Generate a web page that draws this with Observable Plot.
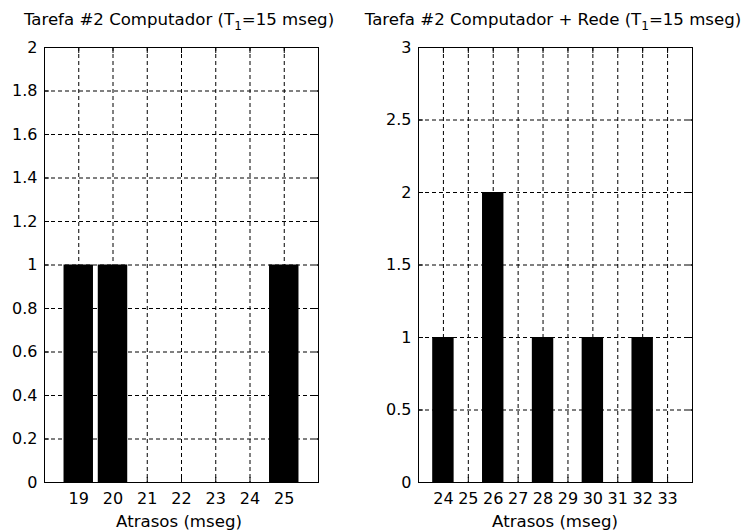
<!DOCTYPE html>
<html>
<head>
<meta charset="utf-8">
<script src="https://cdn.jsdelivr.net/npm/d3@7"></script>
<script src="https://cdn.jsdelivr.net/npm/@observablehq/plot@0.6"></script>
<style>
  body { margin: 0; background: #fff; }
  #wrap { position: relative; width: 745px; height: 532px; overflow: hidden; background: #fff; }
  .panel { position: absolute; top: 0; }
  .panel text { font-family: "DejaVu Sans", sans-serif; font-size: 16px; }
  .txt { position: absolute; font-family: "DejaVu Sans", sans-serif; font-size: 16.6px; color: #000;
         white-space: nowrap; transform: translateX(-50%); line-height: 1; }
  .txt sub { font-size: 12px; vertical-align: -5px; line-height: 0; }
</style>
</head>
<body>
<div id="wrap"></div>
<script>
// ---- data ----
const leftDelays  = [19, 20, 21, 22, 23, 24, 25];
const leftCounts  = [1, 1, 0, 0, 0, 0, 1];
const rightDelays = [24, 25, 26, 27, 28, 29, 30, 31, 32];
const rightCounts = [1, 0, 2, 0, 1, 0, 1, 0, 1];

const leftXTicks  = [19, 20, 21, 22, 23, 24, 25];
const leftYTicks  = [0, 0.2, 0.4, 0.6, 0.8, 1, 1.2, 1.4, 1.6, 1.8, 2];
const rightXTicks = [24, 25, 26, 27, 28, 29, 30, 31, 32, 33];
const rightYTicks = [0, 0.5, 1, 1.5, 2, 2.5, 3];

const leftXDomain  = [18, 26];
const leftYDomain  = [0, 2];
const rightXDomain = [23, 34];
const rightYDomain = [0, 3];

const leftTitleHTML  = "Tarefa #2 Computador (T<sub>1</sub>=15 mseg)";
const rightTitleHTML = "Tarefa #2 Computador + Rede (T<sub>1</sub>=15 mseg)";
const xLabel = "Atrasos (mseg)";

// ---- drawing ----
const wrap = document.getElementById("wrap");
const barHalf = 0.43;

function panel({ delays, counts, xDomain, yDomain, xTicks, yTicks, width, ml, mr }) {
  const data = delays.map((x, i) => ({ x, n: counts[i] }));
  const empty = () => "";
  return Plot.plot({
    width, height: 532,
    marginLeft: ml, marginRight: mr, marginTop: 47, marginBottom: 50,
    style: { background: "white", color: "black", overflow: "visible",
             fontFamily: "'DejaVu Sans', sans-serif", fontSize: "16px" },
    x: { type: "linear", domain: xDomain },
    y: { type: "linear", domain: yDomain },
    marks: [
      Plot.gridX(xTicks, { stroke: "black", strokeOpacity: 1, strokeDasharray: "4,3" }),
      Plot.gridY(yTicks, { stroke: "black", strokeOpacity: 1, strokeDasharray: "4,3" }),
      Plot.rectY(data, { x1: d => d.x - barHalf, x2: d => d.x + barHalf, y: "n", fill: "black" }),
      Plot.frame({ stroke: "black" }),
      Plot.axisX(xTicks, { anchor: "bottom", tickSize: 0, tickPadding: 10, label: null, fontSize: 16 }),
      Plot.axisX(xTicks, { anchor: "bottom", tickSize: -5, tickFormat: empty, label: null }),
      Plot.axisX(xTicks, { anchor: "top", tickSize: -5, tickFormat: empty, label: null }),
      Plot.axisY(yTicks, { anchor: "left", tickSize: 0, tickPadding: 7, tickFormat: d => String(d), label: null, fontSize: 16 }),
      Plot.axisY(yTicks, { anchor: "left", tickSize: -5, tickFormat: empty, label: null }),
      Plot.axisY(yTicks, { anchor: "right", tickSize: -5, tickFormat: empty, label: null })
    ]
  });
}

const left = panel({ delays: leftDelays, counts: leftCounts, xDomain: leftXDomain, yDomain: leftYDomain,
                     xTicks: leftXTicks, yTicks: leftYTicks, width: 372, ml: 44, mr: 54 });
left.classList.add("panel");
left.style.left = "0px";
wrap.appendChild(left);

const right = panel({ delays: rightDelays, counts: rightCounts, xDomain: rightXDomain, yDomain: rightYDomain,
                      xTicks: rightXTicks, yTicks: rightYTicks, width: 373, ml: 46, mr: 53 });
right.classList.add("panel");
right.style.left = "372px";
wrap.appendChild(right);

function addText(html, cx, top) {
  const d = document.createElement("div");
  d.className = "txt";
  d.innerHTML = html;
  d.style.left = cx + "px";
  d.style.top = top + "px";
  wrap.appendChild(d);
}
addText(leftTitleHTML, 179, 12);
addText(rightTitleHTML, 553, 12);
addText(xLabel, 179, 514);
addText(xLabel, 555, 514);
</script>
</body>
</html>
